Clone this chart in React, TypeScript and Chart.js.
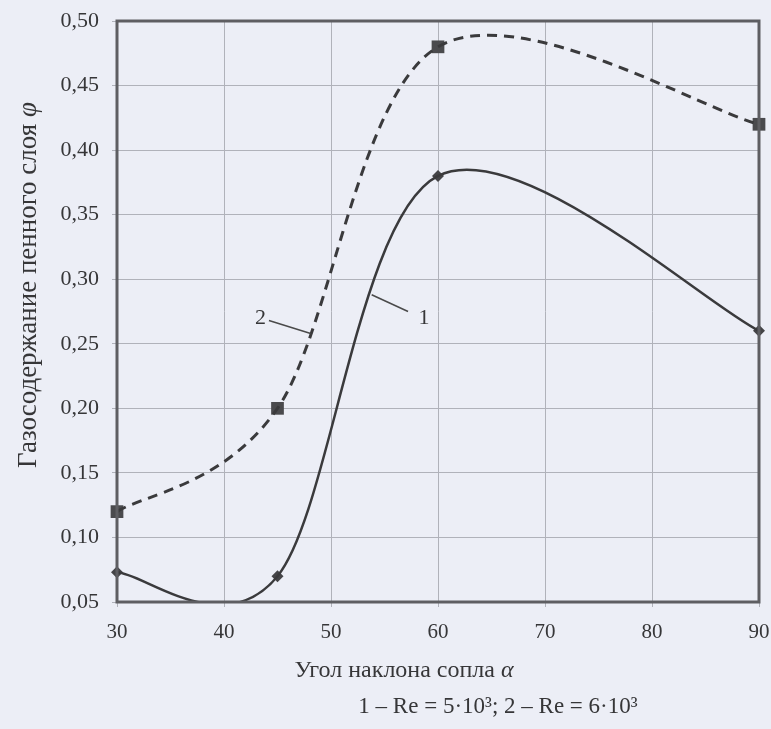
import React, { useEffect, useRef } from "react";
import { Chart, registerables } from "chart.js";

Chart.register(...registerables);

// ---- data ----
const angles = [30, 45, 60, 90];
const phiRe5 = [0.073, 0.07, 0.38, 0.26];
const phiRe6 = [0.12, 0.2, 0.48, 0.42];
const xTickValues = [30, 40, 50, 60, 70, 80, 90];
const yTickMin = 0.05;
const yTickMax = 0.5;
const yTickStep = 0.05;
const xTitleText = "Угол наклона сопла ";
const xTitleSymbol = "α";
const yTitleText = "Газосодержание пенного слоя ";
const yTitleSymbol = "φ";
const captionText = "1 – Re = 5·10³; 2 – Re = 6·10³";
const curveLabelTexts = ["1", "2"];
const curveLabelAt = [
  [58.7, 0.27],
  [43.4, 0.27],
];
const curveLeaderFrom = [
  [57.2, 0.275],
  [44.2, 0.268],
];
const curveLeaderTo = [
  [53.8, 0.288],
  [48.1, 0.258],
];

const FONT = "'Liberation Serif', 'DejaVu Serif', serif";
const INK = "#363638";
const BG = "#eceef6";

function drawMixed(
  ctx: CanvasRenderingContext2D,
  parts: { t: string; italic?: boolean }[],
  cx: number,
  cy: number,
  size: number
) {
  const fonts = parts.map((p) => `${p.italic ? "italic " : ""}${size}px ${FONT}`);
  let total = 0;
  const widths = parts.map((p, i) => {
    ctx.font = fonts[i];
    const w = ctx.measureText(p.t).width;
    total += w;
    return w;
  });
  let x = cx - total / 2;
  ctx.textAlign = "left";
  ctx.textBaseline = "middle";
  parts.forEach((p, i) => {
    ctx.font = fonts[i];
    ctx.fillText(p.t, x, cy);
    x += widths[i];
  });
}

// Excel-style smoothing: Bezier control points from neighbouring points (1/6 of chord)
const smoothPlugin = {
  id: "excelSmooth",
  beforeDatasetsDraw(chart: any) {
    chart.data.datasets.forEach((ds: any, di: number) => {
      if (!ds.excelSmooth) return;
      const meta = chart.getDatasetMeta(di);
      const line = meta.dataset;
      if (!line) return;
      line.updateControlPoints(chart.chartArea, "x");
      const pts = meta.data;
      for (let i = 0; i < pts.length; i++) {
        const p = pts[i];
        const prev = pts[i - 1] || p;
        const next = pts[i + 1] || p;
        const tx = (next.x - prev.x) / 6;
        const ty = (next.y - prev.y) / 6;
        p.cp1x = p.x - tx;
        p.cp1y = p.y - ty;
        p.cp2x = p.x + tx;
        p.cp2y = p.y + ty;
      }
      line._path = undefined;
    });
  },
};

const decorPlugin = {
  id: "decor",
  beforeDraw(chart: any) {
    const { ctx, width, height } = chart;
    ctx.save();
    ctx.fillStyle = BG;
    ctx.fillRect(0, 0, width, height);
    ctx.restore();
  },
  afterDatasetsDraw(chart: any) {
    const { ctx, chartArea } = chart;
    ctx.save();
    ctx.strokeStyle = "#5e5e62";
    ctx.lineWidth = 3;
    ctx.strokeRect(
      chartArea.left,
      chartArea.top,
      chartArea.right - chartArea.left,
      chartArea.bottom - chartArea.top
    );
    ctx.restore();
  },
  afterDraw(chart: any) {
    const { ctx, scales } = chart;
    const xs = scales.x;
    const ys = scales.y;
    ctx.save();
    ctx.fillStyle = INK;
    // y title
    ctx.save();
    ctx.translate(29, 285);
    ctx.rotate(-Math.PI / 2);
    drawMixed(ctx, [{ t: yTitleText }, { t: yTitleSymbol, italic: true }], 0, 0, 27);
    ctx.restore();
    // x title
    drawMixed(ctx, [{ t: xTitleText }, { t: xTitleSymbol, italic: true }], 404, 671, 24);
    // caption
    drawMixed(ctx, [{ t: captionText }], 498, 707, 23);
    // curve labels
    ctx.strokeStyle = "#4a4a4a";
    ctx.lineWidth = 1.5;
    curveLabelTexts.forEach((txt, i) => {
      ctx.beginPath();
      ctx.moveTo(xs.getPixelForValue(curveLeaderFrom[i][0]), ys.getPixelForValue(curveLeaderFrom[i][1]));
      ctx.lineTo(xs.getPixelForValue(curveLeaderTo[i][0]), ys.getPixelForValue(curveLeaderTo[i][1]));
      ctx.stroke();
      ctx.font = `22px ${FONT}`;
      ctx.textAlign = "center";
      ctx.textBaseline = "middle";
      ctx.fillText(txt, xs.getPixelForValue(curveLabelAt[i][0]), ys.getPixelForValue(curveLabelAt[i][1]));
    });
    ctx.restore();
  },
};

export default function App() {
  const ref = useRef<HTMLCanvasElement | null>(null);
  useEffect(() => {
    if (!ref.current) return;
    const pts = (ys: number[]) => angles.map((a, i) => ({ x: a, y: ys[i] }));
    const chart = new Chart(ref.current, {
      type: "line",
      data: {
        datasets: [
          {
            label: "1 – Re = 5·10³",
            data: pts(phiRe5),
            borderColor: "#3a3a3c",
            borderWidth: 2.5,
            pointRadius: 0,
            tension: 0.4,
            fill: false,
            clip: 0,
            excelSmooth: true,
          } as any,
          {
            label: "2 – Re = 6·10³",
            data: pts(phiRe6),
            borderColor: "#3a3a3c",
            borderWidth: 3,
            borderDash: [10, 7],
            pointRadius: 0,
            tension: 0.4,
            fill: false,
            clip: 0,
            excelSmooth: true,
          } as any,
          {
            label: "m1",
            data: pts(phiRe5),
            showLine: false,
            pointStyle: "rectRot",
            pointRadius: 6,
            pointBackgroundColor: "#444447",
            pointBorderColor: "#444447",
            pointBorderWidth: 0,
            clip: false,
          } as any,
          {
            label: "m2",
            data: pts(phiRe6),
            showLine: false,
            pointStyle: "rect",
            pointRadius: 9,
            pointBackgroundColor: "#4a4a4d",
            pointBorderColor: "#4a4a4d",
            pointBorderWidth: 0,
            clip: false,
          } as any,
        ],
      },
      options: {
        animation: false,
        responsive: true,
        maintainAspectRatio: false,
        elements: { line: { capBezierPoints: false } },
        layout: { padding: { top: 21, right: 12, left: 0, bottom: 0 } },
        plugins: { legend: { display: false }, tooltip: { enabled: false } },
        scales: {
          x: {
            type: "linear",
            min: xTickValues[0],
            max: xTickValues[xTickValues.length - 1],
            afterBuildTicks: (s: any) => {
              s.ticks = xTickValues.map((v) => ({ value: v }));
            },
            afterFit: (s: any) => {
              s.height = 127;
              s.paddingLeft = 0;
              s.paddingRight = 0;
            },
            ticks: {
              font: { family: FONT, size: 21 },
              color: INK,
              padding: 13,
              maxRotation: 0,
            },
            grid: { color: "#b0b2ba", lineWidth: 1, tickLength: 5 },
            border: { display: false },
          },
          y: {
            type: "linear",
            min: yTickMin,
            max: yTickMax,
            ticks: {
              stepSize: yTickStep,
              font: { family: FONT, size: 22 },
              color: INK,
              padding: 13,
              callback: (v: any) => Number(v).toFixed(2).replace(".", ","),
            },
            afterFit: (s: any) => {
              s.width = 117;
              s.paddingTop = 0;
              s.paddingBottom = 0;
            },
            grid: { color: "#b0b2ba", lineWidth: 1, tickLength: 5 },
            border: { display: false },
          },
        },
      },
      plugins: [smoothPlugin, decorPlugin],
    });
    return () => chart.destroy();
  }, []);
  return (
    <div style={{ position: "fixed", left: 0, top: 0, width: 771, height: 729, background: BG }}>
      <canvas ref={ref} width={771} height={729} />
    </div>
  );
}
